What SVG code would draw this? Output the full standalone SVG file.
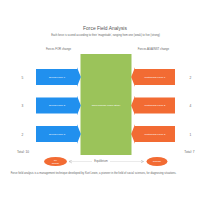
<svg xmlns="http://www.w3.org/2000/svg" width="200" height="200" viewBox="0 0 200 200">
<style>
text{font-family:"Liberation Sans",Arial,sans-serif;fill:#666;text-anchor:middle}
.t{font-size:4.9px;fill:#555}
.s{font-size:2.7px}
.h{font-size:2.8px}
.n{font-size:3.2px}
.w{fill:#fff;font-size:2.4px}
.drv{fill:#2190ee}
.rst{fill:#f26b33}
.ell{fill:#f26b33}
</style>
<defs>
<marker id="ah" markerWidth="4" markerHeight="4" refX="3" refY="2" orient="auto-start-reverse" markerUnits="userSpaceOnUse">
<path d="M0,0.5 L3,2 L0,3.5" fill="none" stroke="#999" stroke-width="0.4"/>
</marker>
</defs>
<rect width="200" height="200" fill="#fff"/>
<text class="t" x="105" y="29.5">Force Field Analysis</text>
<text class="s" x="105.5" y="35.5">Each force is scored according to their 'magnitude', ranging from one (weak) to five (strong)</text>
<text class="h" x="58.5" y="50">Forces FOR change</text>
<text class="h" x="153.5" y="50">Forces AGAINST change</text>
<g id="goal">
<rect x="80.5" y="54" width="51" height="101" fill="#9bc35a"/>
<text class="w" x="106" y="105.5">Issue/Change Under Study</text>
</g>
<g id="driving1">
<path class="drv" d="M36,69 H77 V67.3 L80.8,77 L77,86.7 V85 H36 Z"/>
<text class="w" x="57" y="77.9">Driving Force 1</text>
</g>
<g id="driving2">
<path class="drv" d="M36,97.5 H77 V95.8 L80.8,105.5 L77,115.2 V113.5 H36 Z"/>
<text class="w" x="57" y="106.4">Driving Force 2</text>
</g>
<g id="driving3">
<path class="drv" d="M36,126 H77 V124.3 L80.8,134 L77,143.7 V142 H36 Z"/>
<text class="w" x="57" y="134.9">Driving Force 3</text>
</g>
<g id="restraining1">
<path class="rst" d="M175,69 H135 V67.3 L131.2,77 L135,86.7 V85 H175 Z"/>
<text class="w" x="155" y="77.9">Restraining Force 1</text>
</g>
<g id="restraining2">
<path class="rst" d="M175,97.5 H135 V95.8 L131.2,105.5 L135,115.2 V113.5 H175 Z"/>
<text class="w" x="155" y="106.4">Restraining Force 2</text>
</g>
<g id="restraining3">
<path class="rst" d="M175,126 H135 V124.3 L131.2,134 L135,143.7 V142 H175 Z"/>
<text class="w" x="155" y="134.9">Restraining Force 3</text>
</g>
<g id="scores">
<text class="n" x="22.5" y="78.5">5</text>
<text class="n" x="22.5" y="107">3</text>
<text class="n" x="22.5" y="135.5">2</text>
<text class="n" x="190.5" y="78.5">2</text>
<text class="n" x="190.5" y="107">4</text>
<text class="n" x="190.5" y="135.5">1</text>
<text class="n" x="23" y="152.5">Total: 10</text>
<text class="n" x="189.5" y="152.5">Total: 7</text>
</g>
<g id="connectors">
<line x1="69" y1="161.5" x2="143.5" y2="161.5" stroke="#bbb" stroke-width="0.3" marker-start="url(#ah)" marker-end="url(#ah)"/>
</g>
<g id="equilibrium">
<rect x="92" y="159.3" width="18" height="4.4" fill="#fff"/>
<text class="s" x="101" y="162.4">Equilibrium</text>
</g>
<g id="nochange">
<ellipse class="ell" cx="55.5" cy="161.5" rx="11.5" ry="4.6"/>
<text class="w" x="55.5" y="160.9" style="font-size:2.2px">No</text>
<text class="w" x="55.5" y="163.5" style="font-size:2.2px">Change</text>
</g>
<g id="change">
<ellipse class="ell" cx="157" cy="161.5" rx="10.5" ry="4.6"/>
<text class="w" x="157" y="162.3">Change</text>
</g>
<text class="s" x="93.5" y="173.5">Force field analysis is a management technique developed by Kurt Lewin, a pioneer in the field of social sciences, for diagnosing situations.</text>
</svg>
